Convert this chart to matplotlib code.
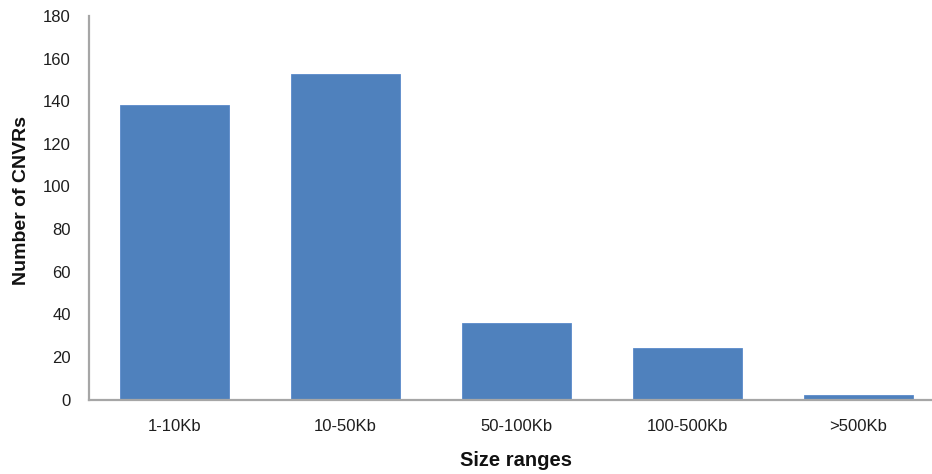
import matplotlib
matplotlib.use("Agg")
import matplotlib.pyplot as plt

categories = ["1-10Kb", "10-50Kb", "50-100Kb", "100-500Kb", ">500Kb"]
counts = [138, 153, 36, 24, 2]
yticks = [0, 20, 40, 60, 80, 100, 120, 140, 160, 180]

plt.rcParams["font.family"] = ["Liberation Sans", "DejaVu Sans"]

fig = plt.figure(figsize=(9.32, 4.74), dpi=100)
ax = fig.add_axes([89 / 932, 74.5 / 474, 855 / 932, 383.5 / 474])

x = range(len(categories))
ax.bar(x, counts, width=0.64, color="#4F81BD", edgecolor="#5A8ACB", linewidth=0.6, zorder=2)

ax.set_xlim(-0.5, len(categories) - 0.5)
ax.set_ylim(0, 180)
ax.set_yticks(yticks)
ax.set_xticks(list(x))
ax.set_xticklabels(categories)

for s in ["top", "right"]:
    ax.spines[s].set_visible(False)
for s in ["left", "bottom"]:
    ax.spines[s].set_color("#A6A6A6")
    ax.spines[s].set_linewidth(1.6)

ax.tick_params(axis="both", length=0, labelsize=12, colors="#1e1e1e")
ax.tick_params(axis="y", pad=13)
ax.tick_params(axis="x", pad=14)

ax.set_ylabel("Number of CNVRs", fontsize=14, fontweight="bold", color="#111111")
ax.yaxis.set_label_coords(-0.069, 0.52)
ax.set_xlabel("Size ranges", fontsize=14.5, fontweight="bold", color="#111111")
ax.xaxis.set_label_coords(0.5, -0.135)

fig.savefig("out.png", dpi=100)
